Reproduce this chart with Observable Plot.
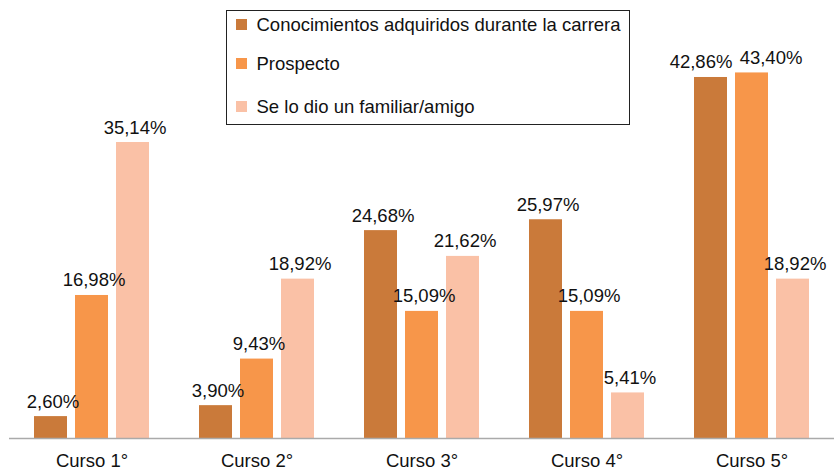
<!DOCTYPE html>
<html>
<head>
<meta charset="utf-8">
<script src="https://cdn.jsdelivr.net/npm/d3@7"></script>
<script src="https://cdn.jsdelivr.net/npm/@observablehq/plot@0.6"></script>
<style>
  body { margin: 0; background: #fff; font-family: "Liberation Sans", Arial, sans-serif; }
  #wrap { position: relative; width: 834px; height: 470px; }
  #legend { position: absolute; left: 226px; top: 10px; width: 404px; height: 115px; border: 1.5px solid #222; box-sizing: border-box; background: #fff; }
  .item { position: absolute; left: 8.5px; display: flex; align-items: center; font-size: 18.5px; line-height: 21px; color: #111; }
  .sw { width: 11px; height: 11px; margin-right: 10px; }
</style>
</head>
<body>
<div id="wrap"></div>
<script>
const courses = ["Curso 1°", "Curso 2°", "Curso 3°", "Curso 4°", "Curso 5°"];
const seriesNames = ["Conocimientos adquiridos durante la carrera", "Prospecto", "Se lo dio un familiar/amigo"];
const conocimientos = [2.60, 3.90, 24.68, 25.97, 42.86];
const prospecto = [16.98, 9.43, 15.09, 15.09, 43.40];
const familiar = [35.14, 18.92, 21.62, 5.41, 18.92];
const colors = ["#CA7A3A", "#F7964A", "#FAC1A6"];

const seriesValues = [conocimientos, prospecto, familiar];
const data = [];
courses.forEach((c, i) => seriesNames.forEach((s, j) => data.push({course: c, series: s, value: seriesValues[j][i]})));
const fmt = v => v.toFixed(2).replace(".", ",") + "%";
// label nudges to avoid overlap in the last group
const nudge = d => (d.course === "Curso 5°" && d.series === seriesNames[0]) ? -10 : (d.course === "Curso 5°" && d.series === seriesNames[1]) ? 19 : 2;
const normal = data.filter(d => d.course !== "Curso 5°" || d.series === seriesNames[2]);
const left5 = data.filter(d => d.course === "Curso 5°" && d.series === seriesNames[0]);
const right5 = data.filter(d => d.course === "Curso 5°" && d.series === seriesNames[1]);
const labelOpts = (dx) => ({fx: "course", x: "series", y: "value", text: d => fmt(d.value), dx, dy: -9, lineAnchor: "bottom", fontSize: 18.5, fill: "#111"});

const chart = Plot.plot({
  width: 834,
  height: 470,
  marginTop: 0,
  marginBottom: 32,
  marginLeft: 8,
  marginRight: 0,
  style: {fontFamily: "'Liberation Sans', Arial, sans-serif", fontSize: "18.5px", color: "#111"},
  fx: {domain: courses, padding: 0, label: null, axis: "bottom", tickSize: 0, tickPadding: 15},
  x: {domain: seriesNames, paddingInner: 0.205, paddingOuter: 0.59, axis: null},
  y: {domain: [0, 52], axis: null},
  color: {domain: seriesNames, range: colors},
  marks: [
    Plot.barY(data, {fx: "course", x: "series", y: "value", fill: "series"}),
    Plot.text(normal, labelOpts(2)),
    Plot.text(left5, labelOpts(-10)),
    Plot.text(right5, labelOpts(19)),
    Plot.ruleY([0], {stroke: "#aaa", strokeWidth: 1.5, facetAnchor: null})
  ]
});
const wrap = document.getElementById("wrap");
wrap.appendChild(chart);

const legend = document.createElement("div");
legend.id = "legend";
const tops = [3, 41.5, 85];
seriesNames.forEach((s, j) => {
  const it = document.createElement("div");
  it.className = "item";
  it.style.top = tops[j] + "px";
  it.innerHTML = `<span class="sw" style="background:${colors[j]}"></span><span>${s}</span>`;
  legend.appendChild(it);
});
wrap.appendChild(legend);
</script>
</body>
</html>
